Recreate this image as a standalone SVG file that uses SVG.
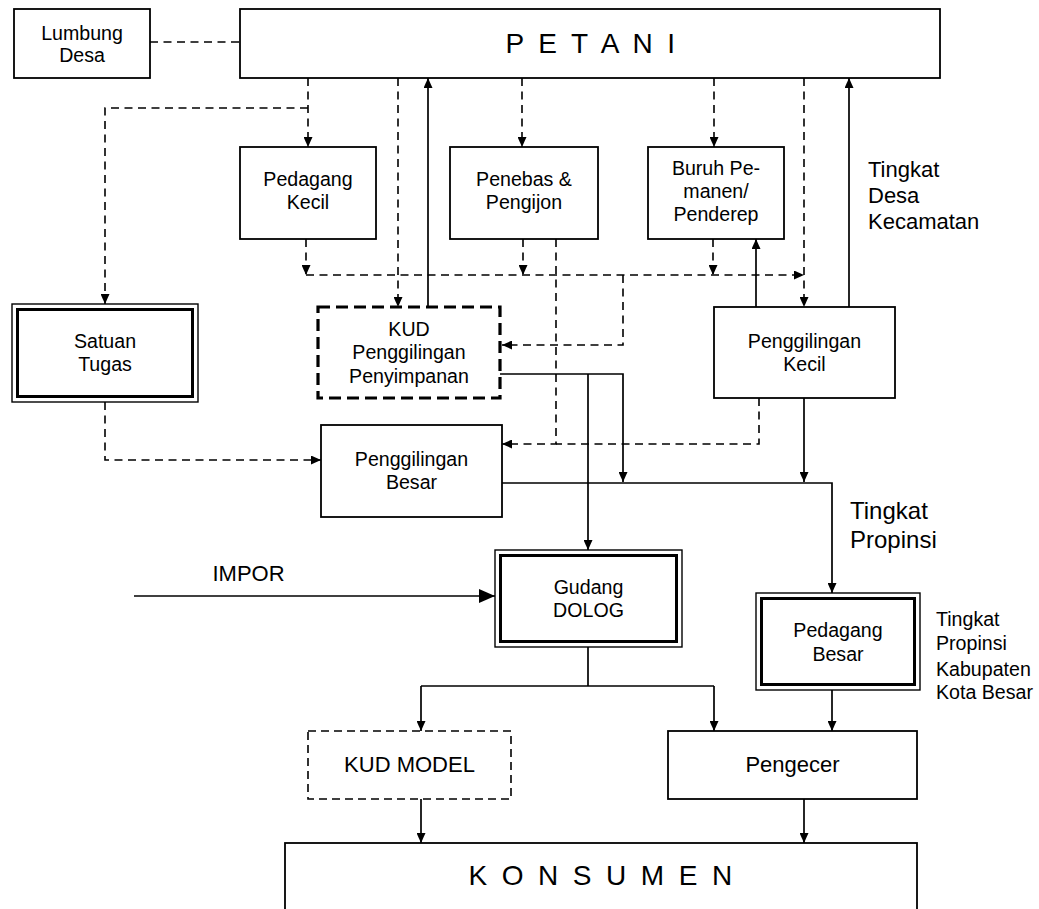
<svg xmlns="http://www.w3.org/2000/svg" width="1039" height="909" viewBox="0 0 1039 909">
<style>
  .box{fill:#fff;stroke:#000;stroke-width:1.8}
  .thin{fill:none;stroke:#000;stroke-width:1.4}
  .thick{fill:none;stroke:#000;stroke-width:3}
  .kud{fill:#fff;stroke:#000;stroke-width:3.2;stroke-dasharray:12 6}
  .dbox{fill:#fff;stroke:#000;stroke-width:1.6;stroke-dasharray:8 5}
  .s{fill:none;stroke:#000;stroke-width:1.7}
  .d{fill:none;stroke:#000;stroke-width:1.6;stroke-dasharray:8 5.5}
  text{font-family:"Liberation Sans",Arial,Helvetica,sans-serif;fill:#000}
  .t{font-size:19.6px;text-anchor:middle}
  .tl{font-size:22px;text-anchor:middle}
  .big{font-size:28px;text-anchor:middle;letter-spacing:3.4px}
  .lab{font-size:19.6px}
</style>
<defs>
  <marker id="a" markerUnits="userSpaceOnUse" markerWidth="10" markerHeight="9" refX="10" refY="4.5" orient="auto">
    <path d="M0,0 L10,4.5 L0,9 z" fill="#000" stroke="none"/>
  </marker>
  <marker id="ab" markerUnits="userSpaceOnUse" markerWidth="16" markerHeight="14" refX="16" refY="7" orient="auto">
    <path d="M0,0 L16,7 L0,14 z" fill="#000" stroke="none"/>
  </marker>
</defs>

<g id="connectors">
  <path class="d" d="M150,42 H240"/>
  <path class="d" d="M308,78 V147" marker-end="url(#a)"/>
  <path class="d" d="M308,108 H105 V304" marker-end="url(#a)"/>
  <path class="d" d="M398,78 V307" marker-end="url(#a)"/>
  <path class="d" d="M522,78 V147" marker-end="url(#a)"/>
  <path class="d" d="M714,78 V147" marker-end="url(#a)"/>
  <path class="d" d="M804,78 V307" marker-end="url(#a)"/>
  <path class="d" d="M306,239 V275" marker-end="url(#a)"/>
  <path class="d" d="M306,275 H804" marker-end="url(#a)"/>
  <path class="d" d="M523,239 V275" marker-end="url(#a)"/>
  <path class="d" d="M713,239 V275" marker-end="url(#a)"/>
  <path class="d" d="M623,275 V345 H502" marker-end="url(#a)"/>
  <path class="d" d="M556,239 V444 H502" marker-end="url(#a)"/>
  <path class="d" d="M759,398 V444 H556"/>
  <path class="d" d="M105,402 V460 H321" marker-end="url(#a)"/>

  <path class="s" d="M428,307 V78" marker-end="url(#a)"/>
  <path class="s" d="M849,307 V78" marker-end="url(#a)"/>
  <path class="s" d="M756,307 V239" marker-end="url(#a)"/>
  <path class="s" d="M500,374 H623 V482" marker-end="url(#a)"/>
  <path class="s" d="M588,374 V550" marker-end="url(#a)"/>
  <path class="s" d="M502,483 H832 V593" marker-end="url(#a)"/>
  <path class="s" d="M804,398 V482" marker-end="url(#a)"/>
  <path class="s" d="M134,596 H495" marker-end="url(#ab)"/>
  <path class="s" d="M588,647 V686"/>
  <path class="s" d="M421,686 H714"/>
  <path class="s" d="M421,686 V731" marker-end="url(#a)"/>
  <path class="s" d="M714,686 V731" marker-end="url(#a)"/>
  <path class="s" d="M421,799 V843" marker-end="url(#a)"/>
  <path class="s" d="M804,799 V843" marker-end="url(#a)"/>
  <path class="s" d="M832,690 V731" marker-end="url(#a)"/>
</g>

<g id="petani">
  <rect class="box" x="240" y="9" width="700" height="69"/>
  <text class="big" x="592" y="52.5">P E T A N I</text>
</g>
<g id="lumbung-desa">
  <rect class="box" x="14" y="9" width="136" height="69"/>
  <text class="t" x="82" y="39.5">Lumbung</text>
  <text class="t" x="82" y="61.5">Desa</text>
</g>
<g id="pedagang-kecil">
  <rect class="box" x="240" y="147" width="136" height="92"/>
  <text class="t" x="308" y="186">Pedagang</text>
  <text class="t" x="308" y="209">Kecil</text>
</g>
<g id="penebas">
  <rect class="box" x="450" y="147" width="148" height="92"/>
  <text class="t" x="524" y="186">Penebas &amp;</text>
  <text class="t" x="524" y="209">Pengijon</text>
</g>
<g id="buruh">
  <rect class="box" x="648" y="147" width="136" height="92"/>
  <text class="t" x="716" y="175">Buruh Pe-</text>
  <text class="t" x="716" y="198">manen/</text>
  <text class="t" x="716" y="221">Penderep</text>
</g>
<g id="satuan-tugas">
  <rect class="thin" x="12" y="304" width="186" height="98" fill="#fff"/>
  <rect class="thick" x="17.5" y="309.5" width="175" height="87"/>
  <text class="t" x="105" y="348">Satuan</text>
  <text class="t" x="105" y="371">Tugas</text>
</g>
<g id="kud">
  <rect class="kud" x="318" y="307" width="182" height="91"/>
  <text class="t" x="409" y="335.5">KUD</text>
  <text class="t" x="409" y="359">Penggilingan</text>
  <text class="t" x="409" y="382.5">Penyimpanan</text>
</g>
<g id="penggilingan-kecil">
  <rect class="box" x="714" y="307" width="181" height="91"/>
  <text class="t" x="804.5" y="348">Penggilingan</text>
  <text class="t" x="804.5" y="371">Kecil</text>
</g>
<g id="penggilingan-besar">
  <rect class="box" x="321" y="425" width="181" height="92"/>
  <text class="t" x="411.5" y="466">Penggilingan</text>
  <text class="t" x="411.5" y="489">Besar</text>
</g>
<g id="impor">
  <text class="tl" x="248.5" y="581">IMPOR</text>
</g>
<g id="gudang-dolog">
  <rect class="thin" x="495" y="550" width="187" height="97" fill="#fff"/>
  <rect class="thick" x="500.5" y="555.5" width="176" height="86"/>
  <text class="t" x="588.5" y="594">Gudang</text>
  <text class="t" x="588.5" y="617">DOLOG</text>
</g>
<g id="pedagang-besar">
  <rect class="thin" x="756" y="593" width="164" height="97" fill="#fff"/>
  <rect class="thick" x="761.5" y="598.5" width="153" height="86"/>
  <text class="t" x="838" y="637">Pedagang</text>
  <text class="t" x="838" y="661">Besar</text>
</g>
<g id="kud-model">
  <rect class="dbox" x="308" y="731" width="203" height="68"/>
  <text class="tl" x="409.5" y="772">KUD MODEL</text>
</g>
<g id="pengecer">
  <rect class="box" x="668" y="731" width="249" height="68"/>
  <text class="tl" x="792.5" y="772">Pengecer</text>
</g>
<g id="konsumen">
  <rect class="box" x="285" y="843" width="632" height="100"/>
  <text class="big" x="602" y="885">K O N S U M E N</text>
</g>
<g id="labels">
  <text style="font-size:22px" x="868" y="177">Tingkat</text>
  <text style="font-size:22px" x="868" y="203">Desa</text>
  <text style="font-size:22px" x="868" y="229">Kecamatan</text>
  <text style="font-size:24px" x="850" y="519">Tingkat</text>
  <text style="font-size:24px" x="850" y="548">Propinsi</text>
  <text class="lab" x="936" y="626">Tingkat</text>
  <text class="lab" x="936" y="650">Propinsi</text>
  <text class="lab" x="936" y="676">Kabupaten</text>
  <text class="lab" x="936" y="699">Kota Besar</text>
</g>
</svg>
